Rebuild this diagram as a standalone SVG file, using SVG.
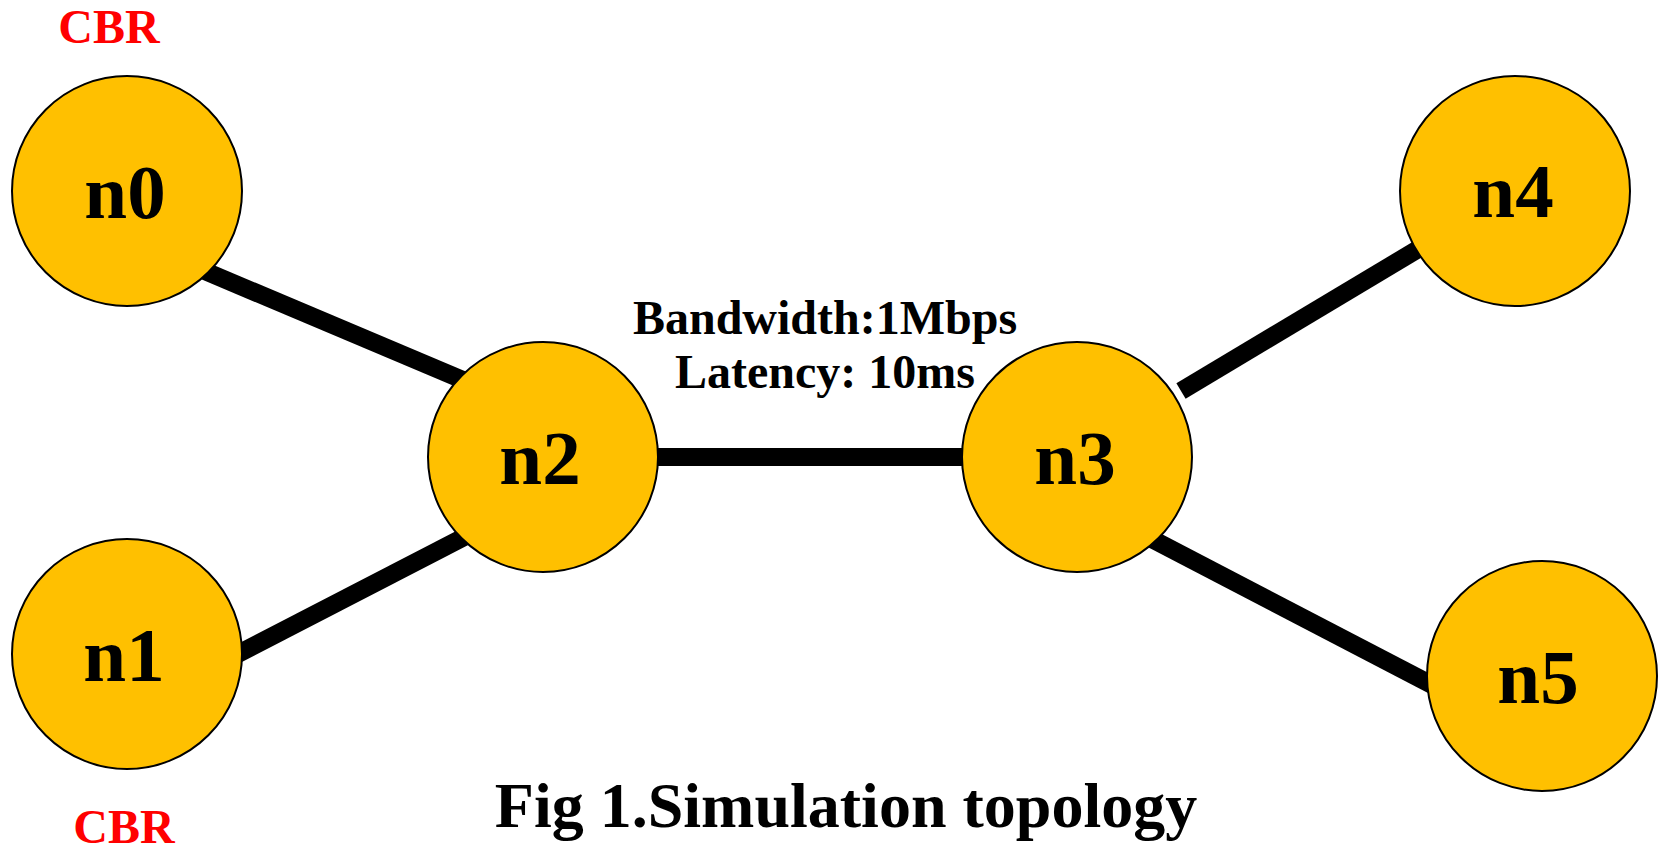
<svg xmlns="http://www.w3.org/2000/svg" width="1661" height="849" viewBox="0 0 1661 849">
<style>
.node{fill:#FFC000;stroke:#000;stroke-width:2}
.lbl{font-family:"Liberation Serif","Times New Roman",serif;font-weight:bold;font-size:77px;fill:#000;text-anchor:middle}
.cbr{font-family:"Liberation Serif","Times New Roman",serif;font-weight:bold;font-size:48px;fill:#FF0000;text-anchor:middle}
.info{font-family:"Liberation Serif","Times New Roman",serif;font-weight:bold;font-size:48px;fill:#000;text-anchor:middle}
.title{font-family:"Liberation Serif","Times New Roman",serif;font-weight:bold;font-size:64px;fill:#000;text-anchor:middle}
.link{stroke:#000;stroke-width:18;fill:none}
</style>
<rect width="1661" height="849" fill="#fff"/>
<g id="connectors">
<line class="link" x1="200" y1="269" x2="470" y2="383"/>
<line class="link" x1="232" y1="657" x2="470" y2="534"/>
<line class="link" x1="640" y1="457" x2="980" y2="457"/>
<line class="link" x1="1181" y1="391" x2="1435" y2="239"/>
<line class="link" x1="1146" y1="536" x2="1436" y2="687"/>
</g>
<g id="n0"><circle class="node" cx="127" cy="191" r="115"/><text class="lbl" x="125" y="218">n0</text></g>
<g id="n1"><circle class="node" cx="127" cy="654" r="115"/><text class="lbl" x="124" y="681">n1</text></g>
<g id="n2"><circle class="node" cx="543" cy="457" r="115"/><text class="lbl" x="540" y="484">n2</text></g>
<g id="n3"><circle class="node" cx="1077" cy="457" r="115"/><text class="lbl" x="1075" y="484">n3</text></g>
<g id="n4"><circle class="node" cx="1515" cy="191" r="115"/><text class="lbl" x="1513" y="217">n4</text></g>
<g id="n5"><circle class="node" cx="1542" cy="676" r="115"/><text class="lbl" x="1538" y="703">n5</text></g>
<g id="labels">
<text class="cbr" x="109" y="43">CBR</text>
<text class="cbr" x="124" y="843">CBR</text>
<text class="info" x="825" y="334">Bandwidth:1Mbps</text>
<text class="info" x="825" y="388">Latency: 10ms</text>
<text class="title" x="846" y="827">Fig 1.Simulation topology</text>
</g>
</svg>
